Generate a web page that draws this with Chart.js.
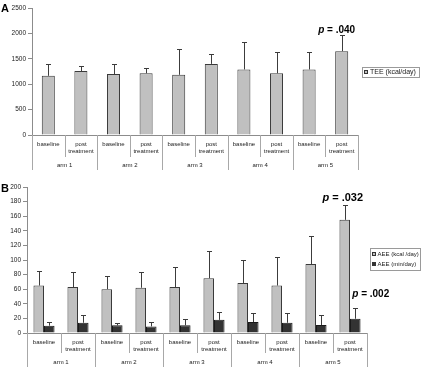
<!DOCTYPE html>
<html>
<head>
<meta charset="utf-8">
<script src="https://cdn.jsdelivr.net/npm/chart.js@4.4.1/dist/chart.umd.min.js"></script>
<style>
html,body{margin:0;padding:0;background:#fff;}
#wrap{position:relative;width:421px;height:367px;overflow:hidden;}
.pane{position:absolute;left:0;width:421px;}
</style>
</head>
<body>
<div id="wrap">
  <div class="pane" style="top:0;height:176px"><canvas id="chartA"></canvas></div>
  <div class="pane" style="top:176px;height:191px"><canvas id="chartB"></canvas></div>
</div>
<script>
// ---- data ----
const subLabels = [["baseline"],["post","treatment"],["baseline"],["post","treatment"],["baseline"],["post","treatment"],["baseline"],["post","treatment"],["baseline"],["post","treatment"]];
const armLabels = ["arm 1","arm 2","arm 3","arm 4","arm 5"];
const teeMean = [1165,1260,1200,1215,1185,1400,1290,1215,1290,1650];
const teeSD   = [230,95,200,100,510,195,535,420,345,325];
const aeeKcalMean = [65,63,60,62,63,75,68.5,65,94.5,155];
const aeeKcalSD   = [20,21,18,21,27,38,31,39,39,21];
const aeeMinMean  = [10,14,10.5,9,10.5,18,15,14,11,19.5];
const aeeMinSD    = [5,10,3.5,6,9,11,12.5,13.5,13,14.5];
const teeTicks = [0,500,1000,1500,2000,2500];
const aeeTicks = [0,20,40,60,80,100,120,140,160,180,200];
const teeLabel = "TEE (kcal/day)";
const aeeKcalLabel = "AEE (kcal /day)";
const aeeMinLabel = "AEE (min/day)";

const FONT = '"Liberation Sans", Arial, Helvetica, sans-serif';
const LIGHT = '#c0c0c0', DARK = '#333333', EDGE = '#3a3a3a', AXIS = '#8c8c8c', TXT = '#222';

// ---- plugins ----
const errorBars = {
  id: 'errorBars',
  afterDatasetsDraw(chart) {
    const ctx = chart.ctx, ys = chart.scales.y;
    ctx.save();
    ctx.strokeStyle = '#3c3c3c';
    ctx.lineWidth = 1;
    chart.data.datasets.forEach((ds, di) => {
      const meta = chart.getDatasetMeta(di);
      meta.data.forEach((bar, i) => {
        const top = ys.getPixelForValue(ds.data[i] + ds.errors[i]);
        const x = Math.round(bar.x) + 0.5;
        ctx.beginPath();
        ctx.moveTo(x, bar.y);
        ctx.lineTo(x, Math.round(top) + 0.5);
        ctx.moveTo(x - 2.5, Math.round(top) + 0.5);
        ctx.lineTo(x + 2.5, Math.round(top) + 0.5);
        ctx.stroke();
      });
    });
    ctx.restore();
  }
};

function drawP(ctx, txt, x, y, size, align) {
  ctx.save();
  ctx.fillStyle = '#000';
  ctx.textBaseline = 'alphabetic';
  const fi = 'italic bold ' + size + 'px ' + FONT;
  const fb = 'bold ' + size + 'px ' + FONT;
  ctx.font = fi; const wp = ctx.measureText('p').width;
  ctx.font = fb; const wr = ctx.measureText(txt).width;
  let sx = align === 'center' ? x - (wp + wr) / 2 : x;
  ctx.font = fi; ctx.textAlign = 'left'; ctx.fillText('p', sx, y);
  ctx.font = fb; ctx.fillText(txt, sx + wp, y);
  ctx.restore();
}

const deco = {
  id: 'deco',
  afterDraw(chart, args, o) {
    const ctx = chart.ctx, xs = chart.scales.x, ys = chart.scales.y, ca = chart.chartArea;
    ctx.save();
    // category separators
    const n = xs.ticks.length;
    const step = xs.getPixelForTick(1) - xs.getPixelForTick(0);
    ctx.strokeStyle = '#a8a8a8';
    ctx.lineWidth = 1;
    for (let i = 0; i <= n; i++) {
      const px = Math.round(xs.getPixelForTick(Math.min(i, n - 1)) + (i === n ? step / 2 : -step / 2)) + 0.5;
      const len = i % 2 === 0 ? o.armLen : o.subLen;
      ctx.beginPath();
      ctx.moveTo(px, ca.bottom);
      ctx.lineTo(px, ca.bottom + len);
      ctx.stroke();
    }
    // arm labels
    ctx.font = '6px ' + FONT;
    ctx.fillStyle = TXT;
    ctx.textAlign = 'center';
    ctx.textBaseline = 'middle';
    armLabels.forEach((t, k) => {
      const cx = (xs.getPixelForTick(2 * k) + xs.getPixelForTick(2 * k + 1)) / 2;
      ctx.fillText(t, cx, ca.bottom + o.armY);
    });
    // panel letter
    ctx.font = 'bold 11px ' + FONT;
    ctx.fillStyle = '#000';
    ctx.textAlign = 'left';
    ctx.textBaseline = 'alphabetic';
    ctx.fillText(o.letter, 1, o.letterY);
    // legend
    const L = o.legend;
    ctx.strokeStyle = '#9a9a9a';
    ctx.lineWidth = 1;
    ctx.strokeRect(L.x + 0.5, L.y + 0.5, L.w, L.h);
    ctx.font = L.size + 'px ' + FONT;
    ctx.textBaseline = 'middle';
    chart.data.datasets.forEach((ds, i) => {
      const cy = L.y + L.first + i * L.gap;
      ctx.fillStyle = ds.backgroundColor;
      ctx.fillRect(L.x + L.mx, Math.round(cy - 2), 4, 4);
      ctx.strokeStyle = '#333';
      ctx.strokeRect(L.x + L.mx + 0.5, Math.round(cy - 2) + 0.5, 3, 3);
      ctx.fillStyle = TXT;
      ctx.fillText(ds.label, L.x + L.tx, cy);
    });
    ctx.restore();
    // p-values
    o.pvals.forEach(p => {
      const bar = chart.getDatasetMeta(p.ds).data[p.i];
      const ds = chart.data.datasets[p.ds];
      const top = ys.getPixelForValue(ds.data[p.i] + ds.errors[p.i]);
      drawP(chart.ctx, p.txt, bar.x + p.dx, top + p.dy, p.size, p.align);
    });
  }
};

function makeChart(id, cfg) {
  return new Chart(document.getElementById(id), {
    type: 'bar',
    data: { labels: subLabels, datasets: cfg.datasets },
    options: {
      responsive: true,
      maintainAspectRatio: false,
      animation: false,
      devicePixelRatio: 1,
      layout: { padding: cfg.padding },
      plugins: { legend: { display: false }, tooltip: { enabled: false }, deco: cfg.deco },
      scales: {
        x: {
          type: 'category',
          grid: { display: false, drawTicks: false },
          border: { display: true, color: AXIS, width: 1 },
          ticks: { autoSkip: false, maxRotation: 0, minRotation: 0, padding: 5, color: TXT, font: { family: FONT, size: 6, lineHeight: 1.3 } },
          afterFit(s) { s.height = cfg.xh; }
        },
        y: {
          min: 0, max: cfg.ticks[cfg.ticks.length - 1],
          afterBuildTicks(s) { s.ticks = cfg.ticks.map(v => ({ value: v })); },
          grid: { drawOnChartArea: false, drawTicks: true, tickLength: 4, color: AXIS },
          border: { display: true, color: AXIS, width: 1 },
          ticks: { padding: 2, color: TXT, font: { family: FONT, size: 6.5 }, callback: v => String(v) },
          afterFit(s) { s.width = cfg.yw; }
        }
      }
    },
    plugins: [errorBars, deco]
  });
}

makeChart('chartA', {
  ticks: teeTicks,
  padding: { left: 0, top: 8, right: 63, bottom: 0 },
  xh: 41, yw: 32,
  datasets: [{
    label: teeLabel, data: teeMean, errors: teeSD,
    backgroundColor: LIGHT, borderColor: EDGE, borderWidth: 1,
    categoryPercentage: 0.4, barPercentage: 1
  }],
  deco: {
    armLen: 35, subLen: 22, armY: 30.5, letter: 'A', letterY: 12,
    legend: { x: 362, y: 67, w: 57, h: 10, size: 7, first: 5, gap: 10, mx: 2, tx: 8 },
    pvals: [{ ds: 0, i: 9, txt: ' = .040', dx: -5, dy: -2, size: 10, align: 'center' }]
  }
});

makeChart('chartB', {
  ticks: aeeTicks,
  padding: { left: 0, top: 11, right: 54, bottom: 0 },
  xh: 34, yw: 27,
  datasets: [{
    label: aeeKcalLabel, data: aeeKcalMean, errors: aeeKcalSD,
    backgroundColor: LIGHT, borderColor: EDGE, borderWidth: 1,
    categoryPercentage: 0.62, barPercentage: 1
  }, {
    label: aeeMinLabel, data: aeeMinMean, errors: aeeMinSD,
    backgroundColor: DARK, borderColor: '#1a1a1a', borderWidth: 1,
    categoryPercentage: 0.62, barPercentage: 1
  }],
  deco: {
    armLen: 34, subLen: 20, armY: 29, letter: 'B', letterY: 16,
    legend: { x: 370, y: 72, w: 50, h: 22, size: 6, first: 6, gap: 10, mx: 2, tx: 7.5 },
    pvals: [
      { ds: 0, i: 9, txt: ' = .032', dx: -2, dy: -4, size: 11, align: 'center' },
      { ds: 1, i: 9, txt: ' = .002', dx: -3, dy: -11, size: 10, align: 'left' }
    ]
  }
});
</script>
</body>
</html>
